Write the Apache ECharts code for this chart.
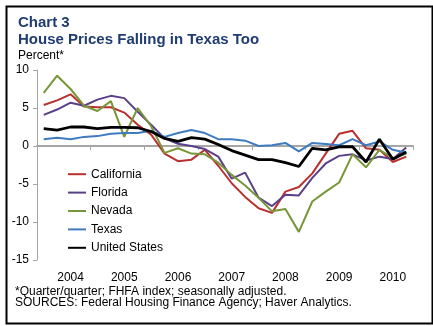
<!DOCTYPE html>
<html>
<head>
<meta charset="utf-8">
<script src="https://cdn.jsdelivr.net/npm/echarts@6/dist/echarts.min.js"></script>
<style>
  html, body { margin: 0; padding: 0; background: #fff; }
  #chart { width: 433px; height: 326px; }
</style>
</head>
<body>
<div id="chart"></div>
<script>
// Quarterly house price change, percent (quarter over quarter, seasonally adjusted)
const quarters = [
  '2004Q1','2004Q2','2004Q3','2004Q4','2005Q1','2005Q2','2005Q3','2005Q4',
  '2006Q1','2006Q2','2006Q3','2006Q4','2007Q1','2007Q2','2007Q3','2007Q4',
  '2008Q1','2008Q2','2008Q3','2008Q4','2009Q1','2009Q2','2009Q3','2009Q4',
  '2010Q1','2010Q2','2010Q3','2010Q4'
];
const california = [5.4, 6.0, 6.8, 5.2, 5.1, 5.1, 4.4, 2.8, 1.5, -1.0, -2.0, -1.8, -0.5, -2.6, -4.9, -6.7, -8.2, -8.8, -6.0, -5.4, -3.6, -1.0, 1.6, 2.0, -0.3, -0.5, -2.1, -1.4];
const florida    = [4.1, 4.8, 5.7, 5.3, 6.1, 6.6, 6.3, 4.5, 2.8, 1.0, 0.3, 0.0, -0.4, -1.4, -4.3, -3.5, -6.8, -7.9, -6.4, -6.5, -4.2, -2.3, -1.3, -1.1, -1.9, -1.4, -1.7, -0.2];
const nevada     = [7.0, 9.25, 7.5, 5.3, 4.6, 5.9, 1.2, 5.0, 2.6, -0.9, -0.3, -1.0, -1.1, -2.2, -3.8, -5.2, -6.8, -8.6, -8.3, -11.3, -7.3, -6.0, -4.8, -1.1, -2.8, -0.5, -1.6, -1.0];
const texas      = [0.9, 1.1, 0.9, 1.2, 1.3, 1.6, 1.7, 1.7, 2.0, 1.2, 1.7, 2.1, 1.7, 0.9, 0.9, 0.7, 0.0, 0.1, 0.4, -0.7, 0.4, 0.25, 0.1, 0.9, 0.1, 0.6, -0.5, -0.9];
const unitedStates = [2.3, 2.1, 2.5, 2.5, 2.3, 2.45, 2.45, 2.4, 1.9, 1.0, 0.6, 1.1, 0.9, 0.2, -0.6, -1.2, -1.8, -1.8, -2.2, -2.7, -0.3, -0.5, -0.1, -0.1, -2.1, 0.9, -1.75, -0.8];
const yTicks = { min: -15, max: 10, step: 5 };

const FONT = "'Liberation Sans', Arial, sans-serif";
const NAVY = '#1f3c73';

const chart = echarts.init(document.getElementById('chart'), null, { renderer: 'canvas' });

function line(name, data, color, width) {
  return {
    name, type: 'line', data, xAxisIndex: 0, yAxisIndex: 0,
    symbol: 'none', smooth: false,
    lineStyle: { color, width }, itemStyle: { color },
    emphasis: { disabled: true }
  };
}

chart.setOption({
  animation: false,
  backgroundColor: '#fff',
  title: [
    { text: 'Chart 3', left: 13, top: 10, textStyle: { fontFamily: FONT, fontSize: 15, fontWeight: 'bold', color: NAVY } },
    { text: 'House Prices Falling in Texas Too', left: 13, top: 27, textStyle: { fontFamily: FONT, fontSize: 15, fontWeight: 'bold', color: NAVY } },
    { text: 'Percent*', left: 13, top: 45, textStyle: { fontFamily: FONT, fontSize: 12, fontWeight: 'normal', color: '#000' } },
    { text: '*Quarter/quarter; FHFA index; seasonally adjusted.', left: 10, top: 281, textStyle: { fontFamily: FONT, fontSize: 12, fontWeight: 'normal', color: '#000' } },
    { text: 'SOURCES: Federal Housing Finance Agency; Haver Analytics.', left: 10, top: 292, textStyle: { fontFamily: FONT, fontSize: 12, fontWeight: 'normal', color: '#000' } }
  ],
  graphic: [{
    type: 'rect', left: 4, top: 4, silent: true,
    shape: { width: 426, height: 317 },
    style: { fill: 'none', stroke: '#000', lineWidth: 2 }
  }],
  legend: {
    orient: 'vertical', left: 63, top: 160,
    icon: 'rect', itemWidth: 18, itemHeight: 2, itemGap: 0,
    textStyle: { fontFamily: FONT, fontSize: 12, color: '#000', lineHeight: 18.4 },
    data: ['California', 'Florida', 'Nevada', 'Texas', 'United States']
  },
  grid: { left: 37, right: 20, top: 70, bottom: 66, containLabel: false },
  xAxis: [
    {
      type: 'category', data: quarters, boundaryGap: true, position: 'bottom',
      axisLine: { onZero: true, lineStyle: { color: '#a6a6a6', width: 2 } },
      axisTick: { show: true, interval: 3, length: 4, lineStyle: { color: '#a6a6a6', width: 1 } },
      axisLabel: { show: false }, splitLine: { show: false }
    },
    {
      type: 'category', data: quarters, boundaryGap: true, position: 'bottom',
      axisLine: { show: false }, axisTick: { show: false }, splitLine: { show: false },
      axisLabel: {
        show: true, margin: 12, fontFamily: FONT, fontSize: 12, color: '#000',
        interval: (i) => i % 4 === 2,
        formatter: (v) => v.slice(0, 4)
      }
    }
  ],
  yAxis: {
    type: 'value', min: yTicks.min, max: yTicks.max, interval: yTicks.step,
    axisLine: { show: true, lineStyle: { color: '#a6a6a6', width: 1 } },
    axisTick: { show: true, length: 4, lineStyle: { color: '#a6a6a6' } },
    axisLabel: { fontFamily: FONT, fontSize: 12, color: '#000', margin: 8 },
    splitLine: { show: false }
  },
  series: [
    line('California', california, '#b8312f', 2),
    line('Florida', florida, '#5a4089', 2),
    line('Nevada', nevada, '#779638', 2),
    line('Texas', texas, '#3f7bbf', 2),
    line('United States', unitedStates, '#000000', 2.8)
  ]
});
</script>
</body>
</html>
